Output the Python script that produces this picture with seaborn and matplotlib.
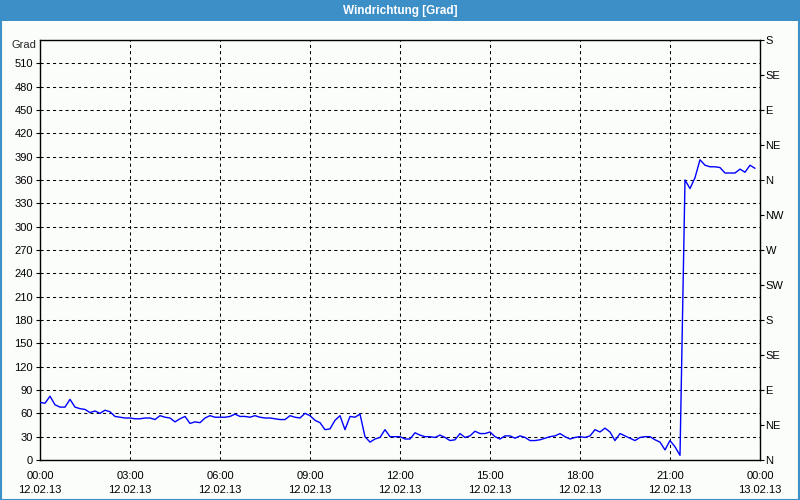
import numpy as np
import pandas as pd
import matplotlib
matplotlib.use("Agg")
import matplotlib.pyplot as plt
import seaborn as sns
from matplotlib.patches import Rectangle
from matplotlib.ticker import MultipleLocator, FixedLocator

# ---------------- data ----------------
title = "Windrichtung [Grad]"
unit_label = "Grad"
sample_minutes = 10  # one reading every 10 minutes starting 12.02.13 00:00

direction = [
    74, 73, 82, 71, 68, 68, 78, 68, 66, 65,
    61, 63, 60, 64, 62, 56, 55, 54, 54, 53,
    53, 54, 54, 52, 57, 55, 54, 49, 53, 56,
    47, 49, 48, 54, 57, 55, 55, 55, 56, 59,
    56, 56, 55, 57, 55, 54, 54, 53, 52, 52,
    57, 55, 54, 60, 57, 51, 48, 39, 40, 51,
    57, 39, 56, 55, 59, 30, 23, 27, 29, 39,
    30, 30, 30, 27, 27, 35, 32, 30, 30, 29,
    32, 29, 25, 26, 34, 29, 31, 37, 34, 34,
    36, 30, 27, 31, 31, 28, 31, 29, 25, 25,
    26, 28, 30, 31, 34, 30, 27, 29, 30, 29,
    31, 39, 36, 41, 36, 25, 34, 31, 28, 25,
    29, 30, 30, 26, 23, 13, 25, 17, 6, 360,
    349, 363, 386, 379, 377, 377, 376, 369, 369, 369,
    374, 370, 379, 375,
]

x_tick_labels = [
    "00:00\n12.02.13", "03:00\n12.02.13", "06:00\n12.02.13",
    "09:00\n12.02.13", "12:00\n12.02.13", "15:00\n12.02.13",
    "18:00\n12.02.13", "21:00\n12.02.13", "00:00\n13.02.13",
]
compass_labels = ["N", "NE", "E", "SE", "S", "SW", "W", "NW",
                  "N", "NE", "E", "SE", "S"]

hours = np.arange(len(direction)) * sample_minutes / 60.0
df = pd.DataFrame({"hours": hours, "deg": direction})

# ---------------- style ----------------
bg = "#fbfdfb"
bar_blue = "#3c8fc7"
sns.set_style("white")
plt.rcParams["font.family"] = ["Liberation Sans", "DejaVu Sans"]
plt.rcParams["font.size"] = 8

fig = plt.figure(figsize=(8, 5), dpi=100, facecolor=bg)

# title bar and frame
fig.patches.append(Rectangle((0, 1 - 21 / 500), 1, 21 / 500, transform=fig.transFigure,
                             facecolor=bar_blue, edgecolor="none", zorder=0))
fig.patches.append(Rectangle((0.5 / 800, 0.5 / 500), 1 - 1.5 / 800, 1 - 1.5 / 500,
                             transform=fig.transFigure, facecolor="none",
                             edgecolor=bar_blue, lw=1.5, zorder=0))
fig.text(0.5, 1 - 11 / 500, title, color="white", fontweight="bold",
         ha="center", va="center", fontsize=8.5)

ax = fig.add_axes([40 / 800, 40 / 500, 720 / 800, 420 / 500])
ax.set_facecolor(bg)
sns.lineplot(data=df, x="hours", y="deg", ax=ax, color="#0000ff", lw=1.0, zorder=3)

ax.set_xlim(0, 24)
ax.set_ylim(0, 540)
ax.set_xlabel("")
ax.set_ylabel("")

ax.yaxis.set_major_locator(FixedLocator(np.arange(0, 511, 30)))
ax.xaxis.set_major_locator(FixedLocator(np.arange(0, 25, 3)))
ax.xaxis.set_minor_locator(MultipleLocator(1))
ax.set_xticklabels(x_tick_labels, linespacing=1.5)

for s in ax.spines.values():
    s.set_color("black")
    s.set_linewidth(1.0)

ax.tick_params(axis="both", which="both", direction="out", color="black",
               labelcolor="black", labelsize=8)
ax.tick_params(axis="y", length=3, width=0.8, pad=2)
ax.tick_params(axis="x", which="major", length=4, width=0.8, pad=4)
ax.tick_params(axis="x", which="minor", length=3, width=0.8)

ax.grid(True, which="major", color="black", linestyle=(0, (3, 3)), linewidth=0.75)
ax.set_axisbelow(True)

# right compass axis
ax2 = ax.twinx()
ax2.set_ylim(0, 540)
ax2.yaxis.set_major_locator(FixedLocator(np.arange(0, 541, 45)))
ax2.set_yticklabels(compass_labels)
ax2.tick_params(axis="y", direction="out", length=3, width=0.8, pad=1,
                labelsize=8, color="black", labelcolor="black")
for s in ax2.spines.values():
    s.set_visible(False)
ax2.grid(False)

fig.text(36 / 800, 1 - 45 / 500, unit_label, ha="right", va="center", fontsize=8)

fig.savefig("out.png", dpi=100, facecolor=bg)
